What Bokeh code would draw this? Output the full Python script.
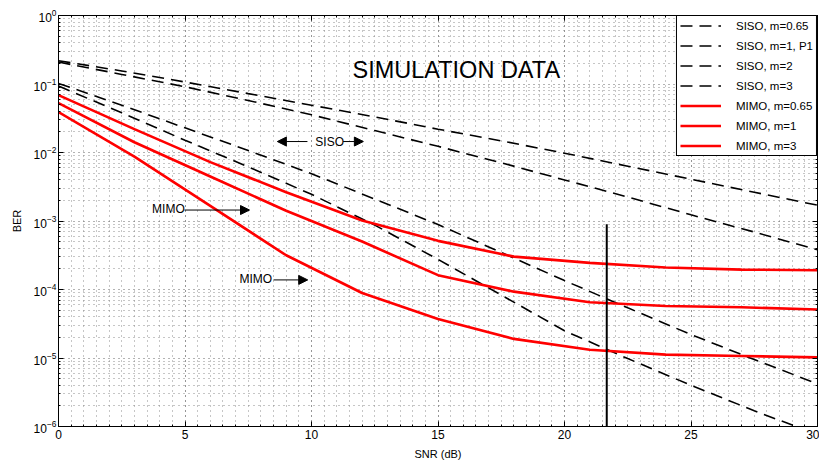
from bokeh.plotting import figure
from bokeh.models import (LogAxis, LinearAxis, Legend, LegendItem, Arrow, NormalHead,
                          Label, SingleIntervalTicker, FixedTicker, LogTickFormatter,
                          BasicTickFormatter)
from bokeh.embed import file_html
from bokeh.resources import INLINE

# ---------------- data ----------------
snr_siso = [0, 2.5, 5, 7.5, 10, 12.5, 15, 17.5, 20, 22.5, 25, 27.5, 30]
siso_m065 = [0.219, 0.155, 0.107, 0.0724, 0.049, 0.0331, 0.0219, 0.0148, 0.00977, 0.00631, 0.00407, 0.00263, 0.0017]
siso_m1 = [0.209, 0.138, 0.0912, 0.0575, 0.0355, 0.0209, 0.0123, 0.00708, 0.00398, 0.00224, 0.00123, 0.00069, 0.00038]
siso_m2 = [0.102, 0.049, 0.0229, 0.0107, 0.0049, 0.00209, 0.00089, 0.000347, 0.000135, 5.4e-5, 2.2e-5, 9.5e-6, 4.2e-6]
siso_m3 = [0.0933, 0.038, 0.0151, 0.00617, 0.00245, 0.00087, 0.000275, 8.3e-5, 2.5e-5, 9.8e-6, 4.0e-6, 1.7e-6, 7.6e-7]

snr_mimo = [0, 3, 6, 9, 12, 15, 18, 21, 24, 27, 30]
mimo_m065 = [0.0687, 0.0219, 0.00724, 0.00263, 0.00102, 0.000513, 0.000302, 0.000245, 0.000209, 0.000195, 0.000191]
mimo_m1 = [0.0525, 0.0141, 0.00447, 0.00141, 0.000501, 0.000162, 9.3e-5, 6.5e-5, 5.75e-5, 5.5e-5, 5.1e-5]
mimo_m3 = [0.0389, 0.0087, 0.00166, 0.000316, 8.9e-5, 3.7e-5, 1.9e-5, 1.32e-5, 1.12e-5, 1.07e-5, 1.02e-5]

marker_snr = [21.67, 21.67]
marker_ber = [1e-6, 9e-4]

siso_labels = ["SISO, m=0.65", "SISO, m=1, P1", "SISO, m=2", "SISO, m=3"]
mimo_labels = ["MIMO, m=0.65", "MIMO, m=1", "MIMO, m=3"]

y_ticks = [1e-6, 1e-5, 1e-4, 1e-3, 1e-2, 1e-1, 1]

FONT = "Liberation Sans"

# ---------------- figure ----------------
p = figure(width=819, height=462, y_axis_type="log", x_range=(0, 30), y_range=(1e-6, 1),
           output_backend="svg", toolbar_location=None,
           min_border_left=58, min_border_right=2, min_border_top=15, min_border_bottom=30)
p.background_fill_color = "white"
p.border_fill_color = "white"
p.outline_line_color = "black"
p.outline_line_width = 1

y_minor = [m * t for t in y_ticks[:-1] for m in range(2, 10)]
yticker = FixedTicker(ticks=y_ticks, minor_ticks=y_minor)
xticker = SingleIntervalTicker(interval=5, num_minor_ticks=10)

def style_axis(ax):
    ax.axis_line_color = "black"
    ax.major_tick_line_color = "black"
    ax.minor_tick_line_color = "black"
    ax.major_tick_in = 5
    ax.major_tick_out = 0
    ax.minor_tick_in = 2
    ax.minor_tick_out = 0
    ax.major_label_text_font = FONT
    ax.major_label_text_font_size = "12px"
    ax.major_label_text_color = "black"
    ax.axis_label_text_font = FONT
    ax.axis_label_text_font_size = "11px"
    ax.axis_label_text_font_style = "normal"
    ax.axis_label_text_color = "black"

xa = p.xaxis[0]
xa.ticker = xticker
style_axis(xa)
xa.axis_label = "SNR (dB)"
xa.major_label_standoff = 3
xa.axis_label_standoff = 6

ya = p.yaxis[0]
ya.ticker = yticker
ya.formatter = LogTickFormatter()
style_axis(ya)
ya.axis_label = "BER"
ya.major_label_standoff = 2
ya.axis_label_standoff = 8

top = LinearAxis(ticker=xticker, formatter=BasicTickFormatter())
style_axis(top)
top.major_label_text_font_size = "1px"
top.major_label_text_alpha = 0
top.major_label_standoff = 0
p.add_layout(top, "above")
right = LogAxis(ticker=yticker, formatter=BasicTickFormatter())
style_axis(right)
right.major_label_text_font_size = "1px"
right.major_label_text_alpha = 0
right.major_label_standoff = 0
p.add_layout(right, "right")

p.xgrid.ticker = xticker
p.ygrid.ticker = yticker
for g in (p.xgrid, p.ygrid):
    g.grid_line_color = "#666666"
    g.grid_line_dash = "1 4"
    g.grid_line_width = 1
    g.minor_grid_line_color = "#8c8c8c"
    g.minor_grid_line_dash = "1 4"
    g.minor_grid_line_width = 1

# ---------------- lines ----------------
siso_data = [siso_m065, siso_m1, siso_m2, siso_m3]
mimo_data = [mimo_m065, mimo_m1, mimo_m3]
items = []
for lab, ys in zip(siso_labels, siso_data):
    r = p.line(snr_siso, ys, line_color="black", line_width=1.6, line_dash="12 7")
    items.append(LegendItem(label=lab, renderers=[r]))
for lab, ys in zip(mimo_labels, mimo_data):
    r = p.line(snr_mimo, ys, line_color="#ff0000", line_width=2.6)
    items.append(LegendItem(label=lab, renderers=[r]))

p.line(marker_snr, marker_ber, line_color="black", line_width=2)

# ---------------- annotations ----------------
def add_text(x, y, txt, size):
    p.add_layout(Label(x=x, y=y, text=txt, text_font=FONT, text_font_size=size,
                       text_color="black", text_baseline="middle", text_align="left"))

def add_arrow(x0, x1, y):
    p.add_layout(Arrow(x_start=x0, y_start=y, x_end=x1, y_end=y, line_color="black", line_width=1,
                       end=NormalHead(size=9, fill_color="black", line_color="black", line_width=1)))

add_text(11.62, 10 ** -0.80, "SIMULATION DATA", "23.5px")
add_text(10.15, 10 ** -1.84, "SISO", "12px")
add_arrow(9.84, 8.65, 10 ** -1.84)
add_arrow(11.25, 12.05, 10 ** -1.84)
add_text(3.7, 10 ** -2.82, "MIMO", "12px")
add_arrow(4.98, 7.55, 10 ** -2.84)
add_text(7.15, 10 ** -3.84, "MIMO", "12px")
add_arrow(8.5, 9.85, 10 ** -3.86)

legend = Legend(items=items, location="top_right", margin=0, padding=3, spacing=7,
                glyph_height=13, label_height=13, glyph_width=41, label_standoff=15,
                label_text_font=FONT, label_text_font_size="11.5px", label_text_color="black",
                border_line_color="black", border_line_width=1, border_line_alpha=1,
                background_fill_color="white", background_fill_alpha=1)
p.add_layout(legend)

open("out.html", "w").write(file_html(p, INLINE))
